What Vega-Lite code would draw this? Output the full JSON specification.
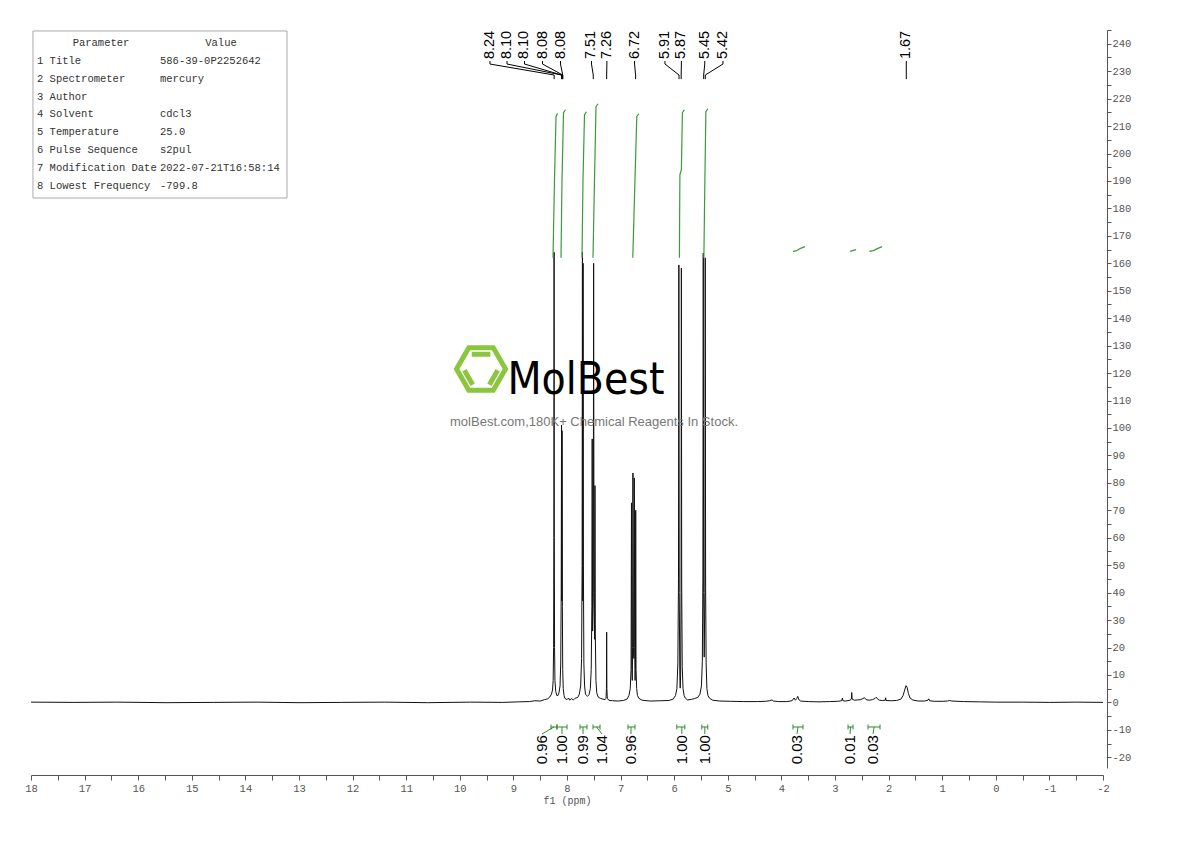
{
  "$schema": "https://vega.github.io/schema/vega-lite/v6.json",
  "width": 1072,
  "height": 738,
  "autosize": {"type": "none"},
  "padding": {"left": 31, "top": 30, "right": 87, "bottom": 73},
  "background": "white",
  "config": {"view": {"stroke": null}},
  "datasets": {
    "spectrum": [
      {"ppm": 18.0, "v": 0.1}, {"ppm": 17.2, "v": 0.0}, {"ppm": 16.4, "v": 0.1}, {"ppm": 15.5, "v": -0.1},
      {"ppm": 14.6, "v": 0.0}, {"ppm": 13.8, "v": 0.1}, {"ppm": 13.0, "v": -0.1}, {"ppm": 12.2, "v": 0.0},
      {"ppm": 11.4, "v": 0.1}, {"ppm": 10.6, "v": -0.1}, {"ppm": 9.8, "v": 0.1}, {"ppm": 9.2, "v": 0.0},
      {"ppm": 8.9, "v": 0.2}, {"ppm": 8.7, "v": 0.3}, {"ppm": 8.6, "v": 0.6}, {"ppm": 8.5, "v": 0.5},
      {"ppm": 8.42, "v": 1.0}, {"ppm": 8.36, "v": 1.3}, {"ppm": 8.32, "v": 2.0}, {"ppm": 8.29, "v": 3.0},
      {"ppm": 8.27, "v": 4.5}, {"ppm": 8.258, "v": 8}, {"ppm": 8.25, "v": 20}, {"ppm": 8.245, "v": 60},
      {"ppm": 8.241, "v": 164}, {"ppm": 8.237, "v": 60}, {"ppm": 8.232, "v": 20}, {"ppm": 8.225, "v": 8},
      {"ppm": 8.21, "v": 4}, {"ppm": 8.19, "v": 2.5}, {"ppm": 8.17, "v": 2.5}, {"ppm": 8.15, "v": 3.5},
      {"ppm": 8.13, "v": 6}, {"ppm": 8.117, "v": 14}, {"ppm": 8.108, "v": 40}, {"ppm": 8.102, "v": 101},
      {"ppm": 8.097, "v": 37}, {"ppm": 8.092, "v": 99}, {"ppm": 8.086, "v": 35}, {"ppm": 8.08, "v": 12},
      {"ppm": 8.07, "v": 5}, {"ppm": 8.055, "v": 2.5}, {"ppm": 8.04, "v": 1.5}, {"ppm": 8.0, "v": 1.0},
      {"ppm": 7.97, "v": 1.6}, {"ppm": 7.95, "v": 0.8}, {"ppm": 7.92, "v": 1.4}, {"ppm": 7.88, "v": 0.9},
      {"ppm": 7.85, "v": 1.5}, {"ppm": 7.8, "v": 1.8}, {"ppm": 7.77, "v": 3}, {"ppm": 7.745, "v": 6},
      {"ppm": 7.728, "v": 16}, {"ppm": 7.718, "v": 50}, {"ppm": 7.712, "v": 164}, {"ppm": 7.706, "v": 37},
      {"ppm": 7.7, "v": 160}, {"ppm": 7.694, "v": 50}, {"ppm": 7.685, "v": 14}, {"ppm": 7.672, "v": 6},
      {"ppm": 7.655, "v": 3}, {"ppm": 7.635, "v": 2.5}, {"ppm": 7.62, "v": 2.2}, {"ppm": 7.59, "v": 2.8},
      {"ppm": 7.565, "v": 5}, {"ppm": 7.548, "v": 12}, {"ppm": 7.536, "v": 35}, {"ppm": 7.53, "v": 96},
      {"ppm": 7.522, "v": 26}, {"ppm": 7.51, "v": 40}, {"ppm": 7.503, "v": 160}, {"ppm": 7.496, "v": 40},
      {"ppm": 7.485, "v": 23}, {"ppm": 7.478, "v": 79}, {"ppm": 7.472, "v": 25}, {"ppm": 7.46, "v": 8},
      {"ppm": 7.445, "v": 3.5}, {"ppm": 7.42, "v": 2.0}, {"ppm": 7.38, "v": 1.5}, {"ppm": 7.33, "v": 1.2},
      {"ppm": 7.29, "v": 1.0}, {"ppm": 7.272, "v": 1.5}, {"ppm": 7.264, "v": 5}, {"ppm": 7.26, "v": 25.6},
      {"ppm": 7.256, "v": 5}, {"ppm": 7.248, "v": 1.5}, {"ppm": 7.22, "v": 0.8}, {"ppm": 7.15, "v": 0.6},
      {"ppm": 7.05, "v": 0.5}, {"ppm": 6.95, "v": 0.7}, {"ppm": 6.88, "v": 1.2}, {"ppm": 6.845, "v": 2.5},
      {"ppm": 6.82, "v": 5}, {"ppm": 6.805, "v": 12}, {"ppm": 6.797, "v": 72.7}, {"ppm": 6.79, "v": 12},
      {"ppm": 6.782, "v": 8}, {"ppm": 6.776, "v": 20}, {"ppm": 6.77, "v": 83.6}, {"ppm": 6.762, "v": 20},
      {"ppm": 6.752, "v": 16}, {"ppm": 6.744, "v": 81.8}, {"ppm": 6.737, "v": 20}, {"ppm": 6.73, "v": 8},
      {"ppm": 6.723, "v": 12}, {"ppm": 6.718, "v": 70}, {"ppm": 6.712, "v": 12}, {"ppm": 6.7, "v": 5},
      {"ppm": 6.685, "v": 2.5}, {"ppm": 6.66, "v": 1.5}, {"ppm": 6.6, "v": 0.8}, {"ppm": 6.45, "v": 0.5},
      {"ppm": 6.25, "v": 0.6}, {"ppm": 6.1, "v": 0.7}, {"ppm": 6.02, "v": 1.2}, {"ppm": 5.975, "v": 2.5},
      {"ppm": 5.95, "v": 5}, {"ppm": 5.932, "v": 14}, {"ppm": 5.92, "v": 45}, {"ppm": 5.913, "v": 159.4},
      {"ppm": 5.906, "v": 40}, {"ppm": 5.895, "v": 10}, {"ppm": 5.888, "v": 5.2}, {"ppm": 5.88, "v": 10},
      {"ppm": 5.872, "v": 40}, {"ppm": 5.866, "v": 158.3}, {"ppm": 5.86, "v": 42}, {"ppm": 5.85, "v": 13},
      {"ppm": 5.835, "v": 5}, {"ppm": 5.815, "v": 2.5}, {"ppm": 5.79, "v": 1.5}, {"ppm": 5.75, "v": 0.9},
      {"ppm": 5.68, "v": 1.1}, {"ppm": 5.62, "v": 1.4}, {"ppm": 5.56, "v": 1.8}, {"ppm": 5.52, "v": 3},
      {"ppm": 5.492, "v": 6}, {"ppm": 5.475, "v": 15}, {"ppm": 5.465, "v": 45}, {"ppm": 5.458, "v": 163.7},
      {"ppm": 5.451, "v": 40}, {"ppm": 5.44, "v": 16.5}, {"ppm": 5.428, "v": 40}, {"ppm": 5.421, "v": 162},
      {"ppm": 5.414, "v": 42}, {"ppm": 5.404, "v": 14}, {"ppm": 5.39, "v": 5}, {"ppm": 5.37, "v": 2.5},
      {"ppm": 5.34, "v": 1.5}, {"ppm": 5.28, "v": 0.8}, {"ppm": 5.15, "v": 0.5}, {"ppm": 4.95, "v": 0.4},
      {"ppm": 4.7, "v": 0.3}, {"ppm": 4.45, "v": 0.3}, {"ppm": 4.3, "v": 0.4}, {"ppm": 4.22, "v": 0.6},
      {"ppm": 4.175, "v": 0.9}, {"ppm": 4.15, "v": 0.5}, {"ppm": 4.05, "v": 0.3}, {"ppm": 3.9, "v": 0.3},
      {"ppm": 3.8, "v": 0.6}, {"ppm": 3.765, "v": 1.6}, {"ppm": 3.75, "v": 1.2}, {"ppm": 3.74, "v": 0.8},
      {"ppm": 3.715, "v": 1.4}, {"ppm": 3.695, "v": 2.2}, {"ppm": 3.675, "v": 1.0}, {"ppm": 3.64, "v": 0.5},
      {"ppm": 3.5, "v": 0.3}, {"ppm": 3.3, "v": 0.2}, {"ppm": 3.1, "v": 0.3}, {"ppm": 2.95, "v": 0.4},
      {"ppm": 2.875, "v": 0.6}, {"ppm": 2.862, "v": 1.6}, {"ppm": 2.852, "v": 0.6}, {"ppm": 2.8, "v": 0.5},
      {"ppm": 2.72, "v": 0.8}, {"ppm": 2.695, "v": 1.2}, {"ppm": 2.688, "v": 3.6}, {"ppm": 2.68, "v": 1.2},
      {"ppm": 2.64, "v": 0.8}, {"ppm": 2.58, "v": 0.9}, {"ppm": 2.52, "v": 1.0}, {"ppm": 2.48, "v": 1.4},
      {"ppm": 2.45, "v": 1.7}, {"ppm": 2.42, "v": 1.0}, {"ppm": 2.36, "v": 0.8}, {"ppm": 2.3, "v": 1.0},
      {"ppm": 2.25, "v": 1.5}, {"ppm": 2.23, "v": 1.9}, {"ppm": 2.205, "v": 1.2}, {"ppm": 2.17, "v": 0.8},
      {"ppm": 2.12, "v": 0.7}, {"ppm": 2.062, "v": 0.8}, {"ppm": 2.055, "v": 1.7}, {"ppm": 2.048, "v": 0.7},
      {"ppm": 1.95, "v": 0.6}, {"ppm": 1.85, "v": 0.7}, {"ppm": 1.77, "v": 1.2}, {"ppm": 1.73, "v": 2.5},
      {"ppm": 1.7, "v": 4.5}, {"ppm": 1.675, "v": 6.1}, {"ppm": 1.655, "v": 5.5}, {"ppm": 1.63, "v": 3.2},
      {"ppm": 1.6, "v": 1.6}, {"ppm": 1.55, "v": 0.9}, {"ppm": 1.45, "v": 0.5}, {"ppm": 1.33, "v": 0.5},
      {"ppm": 1.265, "v": 0.8}, {"ppm": 1.252, "v": 1.3}, {"ppm": 1.235, "v": 0.6}, {"ppm": 1.15, "v": 0.4},
      {"ppm": 1.0, "v": 0.4}, {"ppm": 0.9, "v": 0.5}, {"ppm": 0.86, "v": 0.7}, {"ppm": 0.82, "v": 0.5},
      {"ppm": 0.6, "v": 0.3}, {"ppm": 0.3, "v": 0.2}, {"ppm": 0.0, "v": 0.1}, {"ppm": -0.5, "v": 0.1},
      {"ppm": -1.0, "v": 0.0}, {"ppm": -1.5, "v": 0.1}, {"ppm": -2.0, "v": 0.0}
    ],
    "integralCurves": [
      {"id": 1, "ppm": 8.2612, "v": 162.05}, {"id": 1, "ppm": 8.2332, "v": 190.46}, {"id": 1, "ppm": 8.2052, "v": 213.4}, {"id": 1, "ppm": 8.1772, "v": 214.68},
      {"id": 2, "ppm": 8.1119, "v": 162.05}, {"id": 2, "ppm": 8.0933, "v": 190.46}, {"id": 2, "ppm": 8.0653, "v": 214.86}, {"id": 2, "ppm": 8.028, "v": 215.95},
      {"id": 3, "ppm": 7.7201, "v": 162.05}, {"id": 3, "ppm": 7.7015, "v": 190.46}, {"id": 3, "ppm": 7.6735, "v": 214.13}, {"id": 3, "ppm": 7.6362, "v": 215.22},
      {"id": 4, "ppm": 7.5149, "v": 162.05}, {"id": 4, "ppm": 7.4869, "v": 190.46}, {"id": 4, "ppm": 7.459, "v": 217.04}, {"id": 4, "ppm": 7.4216, "v": 218.14},
      {"id": 5, "ppm": 6.7724, "v": 162.05}, {"id": 5, "ppm": 6.7351, "v": 188.27}, {"id": 5, "ppm": 6.6978, "v": 213.4}, {"id": 5, "ppm": 6.6604, "v": 214.49},
      {"id": 6, "ppm": 5.903, "v": 162.05}, {"id": 6, "ppm": 5.8937, "v": 192.28}, {"id": 6, "ppm": 5.8657, "v": 194.1}, {"id": 6, "ppm": 5.847, "v": 214.86}, {"id": 6, "ppm": 5.8097, "v": 215.95},
      {"id": 7, "ppm": 5.4463, "v": 162.05}, {"id": 7, "ppm": 5.4276, "v": 190.46}, {"id": 7, "ppm": 5.409, "v": 215.22}, {"id": 7, "ppm": 5.3716, "v": 216.31},
      {"id": 8, "ppm": 3.7836, "v": 164.35}, {"id": 8, "ppm": 3.7276, "v": 164.5}, {"id": 8, "ppm": 3.653, "v": 165.33}, {"id": 8, "ppm": 3.5597, "v": 166.06},
      {"id": 9, "ppm": 2.7183, "v": 164.35}, {"id": 9, "ppm": 2.6063, "v": 164.97},
      {"id": 10, "ppm": 2.3582, "v": 164.35}, {"id": 10, "ppm": 2.2836, "v": 164.6}, {"id": 10, "ppm": 2.209, "v": 165.33}, {"id": 10, "ppm": 2.1213, "v": 166.06}
    ],
    "peakLabels": [
      {"label": "8.24", "lp": 9.437, "target": 8.24},
      {"label": "8.10", "lp": 9.119, "target": 8.10},
      {"label": "8.10", "lp": 8.793, "target": 8.10},
      {"label": "8.08", "lp": 8.457, "target": 8.08},
      {"label": "8.08", "lp": 8.121, "target": 8.08},
      {"label": "7.51", "lp": 7.543, "target": 7.51},
      {"label": "7.26", "lp": 7.256, "target": 7.26},
      {"label": "6.72", "lp": 6.74, "target": 6.72},
      {"label": "5.91", "lp": 6.172, "target": 5.91},
      {"label": "5.87", "lp": 5.866, "target": 5.87},
      {"label": "5.45", "lp": 5.43, "target": 5.45},
      {"label": "5.42", "lp": 5.09, "target": 5.42},
      {"label": "1.67", "lp": 1.67, "target": 1.67}
    ],
    "integrals": [
      {"label": "0.96", "lp": 8.466, "from": 8.299, "to": 8.187, "mid": 8.243},
      {"label": "1.00", "lp": 8.093, "from": 8.187, "to": 8.0, "mid": 8.093},
      {"label": "0.99", "lp": 7.701, "from": 7.757, "to": 7.627, "mid": 7.701},
      {"label": "1.04", "lp": 7.347, "from": 7.515, "to": 7.384, "mid": 7.45},
      {"label": "0.96", "lp": 6.806, "from": 6.862, "to": 6.731, "mid": 6.806},
      {"label": "1.00", "lp": 5.858, "from": 5.951, "to": 5.802, "mid": 5.858},
      {"label": "1.00", "lp": 5.429, "from": 5.485, "to": 5.373, "mid": 5.429},
      {"label": "0.03", "lp": 3.709, "from": 3.784, "to": 3.597, "mid": 3.69},
      {"label": "0.01", "lp": 2.72, "from": 2.757, "to": 2.664, "mid": 2.71},
      {"label": "0.03", "lp": 2.291, "from": 2.384, "to": 2.16, "mid": 2.27}
    ],
    "table": [
      {"col": 0, "head": "Parameter", "body": "1 Title\n2 Spectrometer\n3 Author\n4 Solvent\n5 Temperature\n6 Pulse Sequence\n7 Modification Date\n8 Lowest Frequency"},
      {"col": 1, "head": "Value", "body": "586-39-0P2252642\nmercury\n\u200b\ncdcl3\n25.0\ns2pul\n2022-07-21T16:58:14\n-799.8"}
    ]
  },
  "layer": [
    {
      "data": {"name": "spectrum"},
      "mark": {"type": "line", "color": "#111111", "strokeWidth": 1, "strokeJoin": "round"},
      "encoding": {
        "x": {
          "field": "ppm", "type": "quantitative",
          "scale": {"domain": [-2, 18], "reverse": true, "nice": false, "zero": false},
          "axis": {
            "orient": "bottom", "offset": 7,
            "tickCount": 40,
            "labelExpr": "datum.value % 1 === 0 ? '' + datum.value : ''",
            "tickSize": 5,
            "encode": {"ticks": {"update": {"y2": {"signal": "datum.value % 1 === 0 ? 5 : 3"}}}},
            "grid": false, "labelOverlap": false, "labelFlush": false,
            "domainColor": "#555555", "tickColor": "#555555", "labelColor": "#555555",
            "labelFont": "Liberation Mono", "labelFontSize": 10.5, "labelPadding": 3,
            "title": "f1 (ppm)", "titleFont": "Liberation Mono", "titleFontSize": 10, "titleFontWeight": "normal", "titleColor": "#555555", "titlePadding": 2
          }
        },
        "y": {
          "field": "v", "type": "quantitative",
          "scale": {"domain": [-23.9, 245], "nice": false, "zero": false},
          "axis": {
            "orient": "right", "offset": 4,
            "tickCount": 54,
            "labelExpr": "datum.value % 10 === 0 ? '' + datum.value : ''",
            "tickSize": 4,
            "encode": {"ticks": {"update": {"x2": {"signal": "datum.value % 10 === 0 ? 4 : 2"}}}},
            "grid": false, "labelOverlap": false, "labelFlush": false,
            "domainColor": "#555555", "tickColor": "#555555", "labelColor": "#555555",
            "labelFont": "Liberation Mono", "labelFontSize": 10.5, "labelPadding": 1,
            "title": null
          }
        }
      }
    },
    {
      "data": {"values": [{"box": "table"}]},
      "mark": {"type": "rect", "filled": false, "stroke": "#aaaaaa", "strokeWidth": 1},
      "encoding": {
        "x": {"datum": 17.963, "type": "quantitative"},
        "x2": {"datum": 13.224},
        "y": {"datum": 244.64, "type": "quantitative"},
        "y2": {"datum": 183.79}
      }
    },
    {
      "data": {"name": "table"},
      "transform": [{"filter": "datum.col === 0"}],
      "mark": {"type": "text", "align": "center", "baseline": "middle", "dx": 64, "font": "Liberation Mono", "fontSize": 10.5, "color": "#333333"},
      "encoding": {
        "x": {"datum": 17.888, "type": "quantitative"},
        "y": {"datum": 240.26, "type": "quantitative"},
        "text": {"field": "head"}
      }
    },
    {
      "data": {"name": "table"},
      "transform": [{"filter": "datum.col === 1"}],
      "mark": {"type": "text", "align": "center", "baseline": "middle", "dx": 61, "font": "Liberation Mono", "fontSize": 10.5, "color": "#333333"},
      "encoding": {
        "x": {"datum": 15.593, "type": "quantitative"},
        "y": {"datum": 240.26, "type": "quantitative"},
        "text": {"field": "head"}
      }
    },
    {
      "data": {"name": "table"},
      "transform": [{"filter": "datum.col === 0"}],
      "mark": {"type": "text", "align": "left", "baseline": "top", "lineBreak": "\n", "lineHeight": 17.875, "font": "Liberation Mono", "fontSize": 10.5, "color": "#333333"},
      "encoding": {
        "x": {"datum": 17.888, "type": "quantitative"},
        "y": {"datum": 235.58, "type": "quantitative"},
        "text": {"field": "body"}
      }
    },
    {
      "data": {"name": "table"},
      "transform": [{"filter": "datum.col === 1"}],
      "mark": {"type": "text", "align": "left", "baseline": "top", "lineBreak": "\n", "lineHeight": 17.875, "font": "Liberation Mono", "fontSize": 10.5, "color": "#333333"},
      "encoding": {
        "x": {"datum": 15.593, "type": "quantitative"},
        "y": {"datum": 235.58, "type": "quantitative"},
        "text": {"field": "body"}
      }
    },
    {
      "data": {"values": [{"mark": "logo"}]},
      "mark": {"type": "point", "shape": "M-1,0L-0.5,-0.866L0.5,-0.866L1,0L0.5,0.866L-0.5,0.866Z", "size": 2401, "filled": false, "stroke": "#8cc63f", "strokeWidth": 5, "opacity": 1, "strokeJoin": "miter"},
      "encoding": {"x": {"datum": 9.604, "type": "quantitative"}, "y": {"datum": 121.5, "type": "quantitative"}}
    },
    {
      "data": {"values": [{"mark": "logo"}]},
      "mark": {"type": "point", "shape": "M-0.38,-0.6L0.38,-0.6M-0.68,0.05L-0.34,0.64M0.68,0.05L0.34,0.64", "size": 2401, "filled": false, "stroke": "#8cc63f", "strokeWidth": 5, "opacity": 1},
      "encoding": {"x": {"datum": 9.604, "type": "quantitative"}, "y": {"datum": 121.5, "type": "quantitative"}}
    },
    {
      "data": {"values": [{"text": "MolBest"}]},
      "mark": {"type": "text", "font": "'DejaVu Sans Condensed', Roboto, sans-serif", "fontSize": 44, "align": "center", "baseline": "alphabetic", "color": "#000000"},
      "encoding": {"x": {"datum": 7.646, "type": "quantitative"}, "y": {"datum": 112.4, "type": "quantitative"}, "text": {"field": "text"}}
    },
    {
      "data": {"values": [{"text": "molBest.com,180K+ Chemical Reagents In Stock."}]},
      "mark": {"type": "text", "font": "Liberation Sans", "fontSize": 13, "align": "center", "baseline": "alphabetic", "color": "#777777"},
      "encoding": {"x": {"datum": 7.496, "type": "quantitative"}, "y": {"datum": 100.7, "type": "quantitative"}, "text": {"field": "text"}}
    },
    {
      "data": {"name": "integralCurves"},
      "mark": {"type": "line", "color": "#3c9a3c", "strokeWidth": 1.2},
      "encoding": {
        "x": {"field": "ppm", "type": "quantitative"},
        "y": {"field": "v", "type": "quantitative"},
        "detail": {"field": "id"},
        "order": {"field": "v"}
      }
    },
    {
      "data": {"name": "peakLabels"},
      "mark": {"type": "text", "angle": 270, "align": "left", "baseline": "middle", "font": "Liberation Sans", "fontSize": 14.5, "color": "#000000"},
      "encoding": {
        "x": {"field": "lp", "type": "quantitative"},
        "y": {"datum": 234.4, "type": "quantitative"},
        "text": {"field": "label"}
      }
    },
    {
      "data": {"name": "peakLabels"},
      "mark": {"type": "rule", "color": "#000000", "strokeWidth": 1},
      "encoding": {
        "x": {"field": "lp", "type": "quantitative"},
        "y": {"datum": 233.7, "type": "quantitative"},
        "y2": {"datum": 232.6}
      }
    },
    {
      "data": {"name": "peakLabels"},
      "mark": {"type": "rule", "color": "#000000", "strokeWidth": 1},
      "encoding": {
        "x": {"field": "lp", "type": "quantitative"},
        "x2": {"field": "target"},
        "y": {"datum": 232.6, "type": "quantitative"},
        "y2": {"datum": 228.6}
      }
    },
    {
      "data": {"name": "peakLabels"},
      "mark": {"type": "rule", "color": "#000000", "strokeWidth": 1},
      "encoding": {
        "x": {"field": "target", "type": "quantitative"},
        "y": {"datum": 228.6, "type": "quantitative"},
        "y2": {"datum": 227.1}
      }
    },
    {
      "data": {"name": "integrals"},
      "mark": {"type": "rule", "color": "#2e8b2e", "strokeWidth": 1},
      "encoding": {
        "x": {"field": "from", "type": "quantitative"},
        "x2": {"field": "to"},
        "y": {"datum": -8.96, "type": "quantitative"}
      }
    },
    {
      "data": {"name": "integrals"},
      "mark": {"type": "rule", "color": "#2e8b2e", "strokeWidth": 1},
      "encoding": {
        "x": {"field": "from", "type": "quantitative"},
        "y": {"datum": -8.05, "type": "quantitative"},
        "y2": {"datum": -9.87}
      }
    },
    {
      "data": {"name": "integrals"},
      "mark": {"type": "rule", "color": "#2e8b2e", "strokeWidth": 1},
      "encoding": {
        "x": {"field": "to", "type": "quantitative"},
        "y": {"datum": -8.05, "type": "quantitative"},
        "y2": {"datum": -9.87}
      }
    },
    {
      "data": {"name": "integrals"},
      "mark": {"type": "rule", "color": "#2e8b2e", "strokeWidth": 1},
      "encoding": {
        "x": {"field": "lp", "type": "quantitative"},
        "x2": {"field": "mid"},
        "y": {"datum": -11.5, "type": "quantitative"},
        "y2": {"datum": -8.96}
      }
    },
    {
      "data": {"name": "integrals"},
      "mark": {"type": "text", "angle": 270, "align": "right", "baseline": "middle", "font": "Liberation Sans", "fontSize": 15, "color": "#000000"},
      "encoding": {
        "x": {"field": "lp", "type": "quantitative"},
        "y": {"datum": -11.9, "type": "quantitative"},
        "text": {"field": "label"}
      }
    }
  ]
}
